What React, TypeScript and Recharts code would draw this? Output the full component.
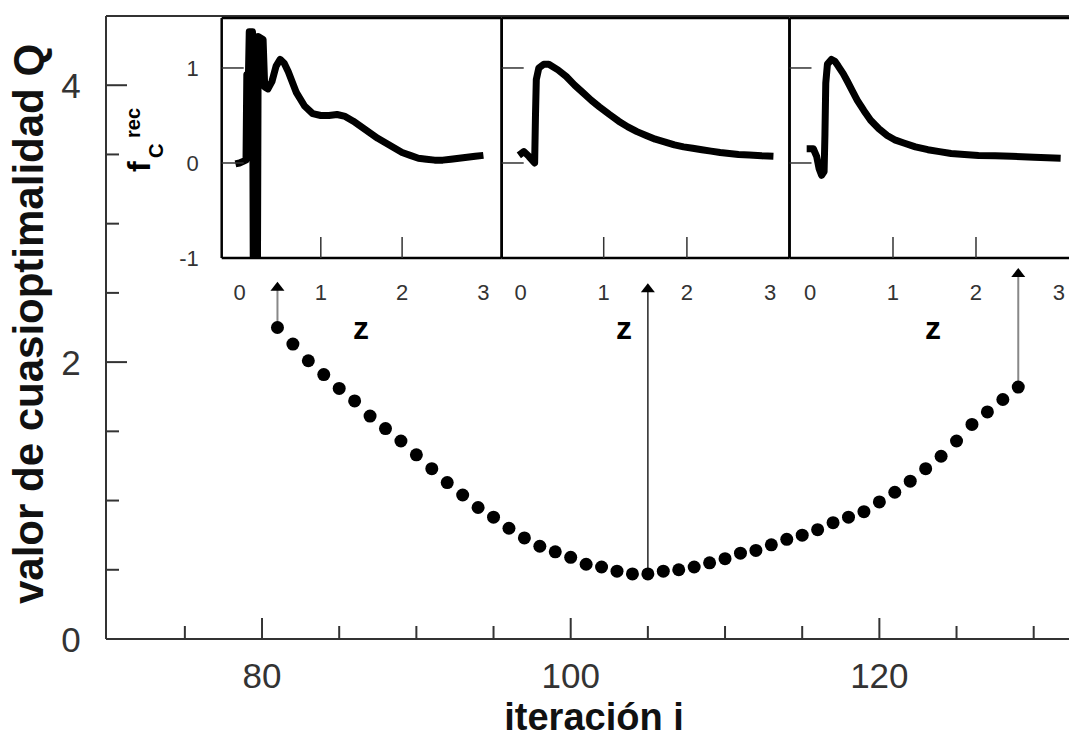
import { ScatterChart, Scatter, XAxis, YAxis, ReferenceLine, Label, LineChart, Line } from 'recharts';

const FONT = '"Liberation Sans", Arial, Helvetica, sans-serif';

// main plot: quasi-optimality value per iteration
const iterations = [
  81, 82, 83, 84, 85, 86, 87, 88, 89, 90, 91, 92, 93, 94, 95, 96, 97, 98, 99, 100, 101, 102, 103, 104, 105,
  106, 107, 108, 109, 110, 111, 112, 113, 114, 115, 116, 117, 118, 119, 120, 121, 122, 123, 124, 125, 126,
  127, 128, 129,
];
const quasiOptimality = [
  2.25, 2.13, 2.01, 1.91, 1.81, 1.72, 1.61, 1.52, 1.43, 1.33, 1.23, 1.13, 1.04, 0.95, 0.88, 0.8, 0.73, 0.67,
  0.63, 0.59, 0.54, 0.52, 0.49, 0.47, 0.47, 0.49, 0.5, 0.52, 0.55, 0.58, 0.62, 0.64, 0.68, 0.72, 0.75, 0.79,
  0.84, 0.88, 0.92, 0.99, 1.06, 1.14, 1.23, 1.32, 1.43, 1.55, 1.64, 1.73, 1.82,
];

// arrows from selected iterations up to the insets
const arrowIterations = [81, 105, 129];
const arrowTips = [2.58, 2.57, 2.68];

const mainXTicks = [75, 80, 85, 90, 95, 100, 105, 110, 115, 120, 125, 130];
const mainXLabels = [80, 100, 120];
const mainYTicks = [0, 0.5, 1, 1.5, 2, 2.5, 3, 3.5, 4, 4.5];
const mainYLabels = [0, 2, 4];

const insetXTicks = [0, 1, 2, 3];
const insetXMarks = [1, 2];
const insetYTicks = [-1, 0, 1];
const insetYMarks = [0, 1];

// reconstructed f_C^rec(z) for iterations 81, 105, 129
const z81 = [
  -0.05, 0, 0.08, 0.09, 0.11, 0.12, 0.16, 0.17, 0.22, 0.23, 0.29, 0.31, 0.35, 0.4, 0.45, 0.5, 0.55, 0.6, 0.7,
  0.8, 0.9, 1.0, 1.1, 1.2, 1.3, 1.4, 1.5, 1.6, 1.7, 1.8, 1.9, 2.0, 2.1, 2.2, 2.3, 2.4, 2.5, 2.6, 2.7, 2.8, 2.9,
  3.0,
];
const f81 = [
  -0.01, 0, 0.03, 0.93, 0.93, 1.38, 1.38, -1.3, -1.3, 1.33, 1.3, 0.8, 0.78, 0.86, 1.02, 1.09, 1.05, 0.96, 0.74,
  0.6, 0.52, 0.5, 0.5, 0.51, 0.49, 0.44, 0.38, 0.32, 0.26, 0.21, 0.16, 0.11, 0.08, 0.05, 0.04, 0.03, 0.03, 0.04,
  0.05, 0.06, 0.07, 0.08,
];
const z105 = [
  -0.02, 0.04, 0.1, 0.17, 0.18, 0.19, 0.22, 0.28, 0.34, 0.45, 0.55, 0.65, 0.75, 0.85, 0.95, 1.07, 1.18, 1.29,
  1.4, 1.51, 1.62, 1.74, 1.85, 1.96, 2.07, 2.18, 2.29, 2.4, 2.51, 2.62, 2.75, 2.9, 3.04,
];
const f105 = [
  0.08, 0.12, 0.07, 0.0, 0.5, 0.88, 1.0, 1.04, 1.04, 0.98, 0.91, 0.82, 0.74, 0.66, 0.59, 0.51, 0.44, 0.38, 0.33,
  0.29, 0.25, 0.22, 0.19, 0.17, 0.155, 0.14, 0.125, 0.11, 0.1, 0.09, 0.085, 0.075, 0.07,
];
const z129 = [
  -0.04, 0.04, 0.08, 0.11, 0.14, 0.17, 0.18, 0.19, 0.21, 0.26, 0.3, 0.34, 0.4, 0.45, 0.51, 0.57, 0.65, 0.73,
  0.83, 0.93, 1.03, 1.13, 1.27, 1.42, 1.56, 1.7, 1.86, 2.03, 2.23, 2.43, 2.7, 3.02,
];
const f129 = [
  0.15, 0.15, 0.07, -0.06, -0.13, -0.09, 0.3, 0.84, 1.04, 1.09, 1.07, 1.02, 0.94, 0.86, 0.76, 0.66, 0.55, 0.45,
  0.36, 0.29, 0.24, 0.21, 0.17, 0.14, 0.12, 0.1, 0.09, 0.08, 0.075, 0.07, 0.06, 0.05,
];

const W = 1080;
const H = 738;
const INSET_H = 360;

const points = iterations.map((i, k) => ({ i, q: quasiOptimality[k] }));

const toSeries = (zs: number[], fs: number[]) => zs.map((z, k) => ({ z, f: fs[k] }));

const panels = [
  { data: toSeries(z81, f81), left: 221.7, right: 501.7, domain: [-0.219, 3.225], zX: 361, yLabels: true },
  { data: toSeries(z105, f105), left: 501.7, right: 789.5, domain: [-0.226, 3.233], zX: 624, yLabels: false },
  { data: toSeries(z129, f129), left: 789.5, right: 1078, domain: [-0.247, 3.229], zX: 933, yLabels: false },
];

const MainXTick = ({ x, y, payload }: any) => {
  const major = mainXLabels.includes(payload.value);
  return (
    <g>
      <line x1={x} x2={x} y1={y} y2={y - (major ? 21 : 13)} stroke="#333" strokeWidth={2} />
      {major && (
        <text x={x} y={y + 48.5} textAnchor="middle" fontSize={35} fontFamily={FONT} fill="#333">
          {payload.value}
        </text>
      )}
    </g>
  );
};

const MainYTick = ({ x, y, payload }: any) => {
  const major = mainYLabels.includes(payload.value);
  if (payload.value === 0) {
    return (
      <text x={x - 35} y={y + 13} textAnchor="middle" fontSize={35} fontFamily={FONT} fill="#333">
        0
      </text>
    );
  }
  return (
    <g>
      <line x1={x} x2={x + (major ? 21 : 13)} y1={y} y2={y} stroke="#333" strokeWidth={2} />
      {major && (
        <text x={x - 35} y={y + 13} textAnchor="middle" fontSize={35} fontFamily={FONT} fill="#333">
          {payload.value}
        </text>
      )}
    </g>
  );
};

const Arrow = (color: string, width: number) => (props: any) => {
  const { x1, y1, x2, y2 } = props;
  const top = Math.min(y1, y2);
  const bottom = Math.max(y1, y2);
  return (
    <g>
      <line x1={x1} x2={x2} y1={bottom} y2={top + 8} stroke={color} strokeWidth={width} />
      <polygon points={`${x2 - 7},${top + 9} ${x2 + 7},${top + 9} ${x2},${top}`} fill="#000" />
    </g>
  );
};

const arrowStyles = [
  { color: '#888', width: 2 },
  { color: '#333', width: 1.6 },
  { color: '#888', width: 2 },
];

function Inset({ data, left, right, domain, zX, yLabels }: any) {
  const frame = { stroke: '#000', strokeWidth: 2.5 };
  const xTick = ({ x, y, payload }: any) => (
    <g>
      {insetXMarks.includes(payload.value) && (
        <line x1={x} x2={x} y1={y} y2={y - 21} stroke="#333" strokeWidth={1.5} />
      )}
      <text x={x} y={y + 42} textAnchor="middle" fontSize={22} fontFamily={FONT} fill="#333">
        {payload.value}
      </text>
    </g>
  );
  const yTick = ({ x, y, payload }: any) => (
    <g>
      {insetYMarks.includes(payload.value) && (
        <line x1={x} x2={x + 22} y1={y} y2={y} stroke="#333" strokeWidth={1.5} />
      )}
      {yLabels && (
        <text x={x - 23} y={y + 8} textAnchor="end" fontSize={22} fontFamily={FONT} fill="#333">
          {payload.value}
        </text>
      )}
    </g>
  );
  // axes need a size of 1px to be drawn; margins are reduced by that amount
  return (
    <div style={{ position: 'absolute', left: 0, top: 0 }}>
      <LineChart
        width={W}
        height={INSET_H}
        data={data}
        margin={{ top: 17, bottom: INSET_H - 258 - 1, left: left - 1, right: W - right - 1 }}
      >
        <XAxis
          type="number"
          dataKey="z"
          domain={domain}
          allowDataOverflow
          ticks={insetXTicks}
          interval={0}
          height={1}
          tickSize={0}
          tickMargin={0}
          tickLine={false}
          axisLine={frame}
          tick={xTick}
        >
          <Label
            content={() => (
              <text x={zX} y={339} textAnchor="middle" fontSize={32} fontWeight="bold" fontFamily={FONT} fill="#000">
                z
              </text>
            )}
          />
        </XAxis>
        <XAxis
          xAxisId="top"
          orientation="top"
          type="number"
          domain={domain}
          ticks={insetXTicks}
          height={1}
          tick={false}
          tickLine={false}
          axisLine={frame}
        />
        <YAxis
          type="number"
          domain={[-1, 1.526]}
          allowDataOverflow
          ticks={insetYTicks}
          interval={0}
          width={1}
          tickSize={0}
          tickMargin={0}
          tickLine={false}
          axisLine={frame}
          tick={yTick}
        >
          {yLabels && (
            <Label
              content={() => (
                <text transform="rotate(-90)" fontFamily={FONT} fontWeight="bold" fill="#000">
                  <tspan x={-172} y={150} fontSize={32}>f</tspan>
                  <tspan x={-158} y={163} fontSize={20}>C</tspan>
                  <tspan x={-138} y={140} fontSize={20}>rec</tspan>
                </text>
              )}
            />
          )}
        </YAxis>
        <YAxis
          yAxisId="r"
          orientation="right"
          type="number"
          domain={[-1, 1.526]}
          ticks={insetYTicks}
          width={1}
          tick={false}
          tickLine={false}
          axisLine={frame}
        />
        <Line
          type="linear"
          dataKey="f"
          stroke="#000"
          strokeWidth={7}
          strokeLinejoin="round"
          dot={false}
          activeDot={false}
          isAnimationActive={false}
        />
      </LineChart>
    </div>
  );
}

export default function App() {
  return (
    <div style={{ position: 'absolute', left: 0, top: 0, width: 1069, height: H, overflow: 'hidden', background: '#fff' }}>
      <div style={{ position: 'absolute', left: 0, top: 0 }}>
        <ScatterChart width={W} height={H} margin={{ top: 15, right: 0, bottom: H - 639 - 1, left: 105 }}>
          <XAxis
            type="number"
            dataKey="i"
            domain={[69.89, 133]}
            allowDataOverflow
            ticks={mainXTicks}
            interval={0}
            height={1}
            tickSize={0}
            tickMargin={0}
            tickLine={false}
            axisLine={{ stroke: '#333', strokeWidth: 2 }}
            tick={MainXTick}
          >
            <Label
              content={() => (
                <text x={594} y={729.5} textAnchor="middle" fontSize={38} fontWeight="bold" fontFamily={FONT} fill="#111">
                  iteración i
                </text>
              )}
            />
          </XAxis>
          <XAxis
            xAxisId="top"
            orientation="top"
            type="number"
            domain={[69.89, 133]}
            ticks={mainXTicks}
            height={1}
            tick={false}
            tickLine={false}
            axisLine={{ stroke: '#333', strokeWidth: 2 }}
          />
          <YAxis
            type="number"
            dataKey="q"
            domain={[0, 4.5]}
            allowDataOverflow
            ticks={mainYTicks}
            interval={0}
            width={1}
            tickSize={0}
            tickMargin={0}
            tickLine={false}
            axisLine={{ stroke: '#333', strokeWidth: 2 }}
            tick={MainYTick}
          >
            <Label
              content={() => (
                <text
                  x={43}
                  y={324}
                  transform="rotate(-90, 43, 324)"
                  textAnchor="middle"
                  fontSize={42}
                  fontWeight="bold"
                  fontFamily={FONT}
                  fill="#111"
                >
                  valor de cuasioptimalidad Q
                </text>
              )}
            />
          </YAxis>
          {arrowIterations.map((it, k) => (
            <ReferenceLine
              key={it}
              segment={[
                { x: it, y: quasiOptimality[iterations.indexOf(it)] },
                { x: it, y: arrowTips[k] },
              ]}
              shape={Arrow(arrowStyles[k].color, arrowStyles[k].width)}
            />
          ))}
          <Scatter
            data={points}
            fill="#000"
            isAnimationActive={false}
            shape={(p: any) => <circle cx={p.cx} cy={p.cy} r={6.5} fill="#000" />}
          />
        </ScatterChart>
      </div>
      {panels.map((p, k) => (
        <Inset key={k} {...p} />
      ))}
    </div>
  );
}
